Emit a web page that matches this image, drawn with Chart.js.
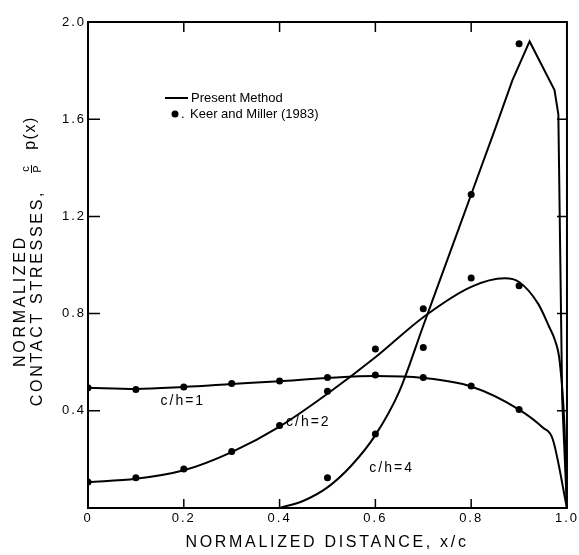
<!DOCTYPE html>
<html lang="en">
<head>
<meta charset="UTF-8" />
<title>Normalized Contact Stresses</title>
<script src="https://cdn.jsdelivr.net/npm/chart.js"></script>
<style>
  body { margin: 0; background: #fff; }
  #wrap { width: 579px; height: 555px; }
</style>
</head>
<body>
<div id="wrap"><canvas id="stressChart" width="579" height="555"></canvas></div>
<script>
// Present Method curves
const xCurve1 = [0, 0.1, 0.2, 0.3, 0.4, 0.5, 0.6, 0.7, 0.8, 0.9, 0.95, 0.97, 1.0];
const yCurve1 = [0.495, 0.49, 0.498, 0.51, 0.522, 0.535, 0.543, 0.535, 0.5, 0.405, 0.33, 0.285, 0];
const xCurve2 = [0, 0.1, 0.2, 0.3, 0.4, 0.5, 0.6, 0.7, 0.8, 0.87, 0.9, 0.94, 0.963, 0.975, 0.985, 0.995, 1.0];
const yCurve2 = [0.107, 0.12, 0.155, 0.23, 0.335, 0.47, 0.62, 0.785, 0.91, 0.945, 0.93, 0.84, 0.745, 0.69, 0.6, 0.33, 0];
// c/h=4: curved rise, then the nearly straight run up to the sharp peak and the drop
const xCurve4Rise = [0.4, 0.45, 0.5, 0.55, 0.6, 0.65, 0.7, 0.75, 0.8];
const yCurve4Rise = [0, 0.03, 0.085, 0.175, 0.3, 0.48, 0.75, 1.02, 1.29];
const xCurve4Peak = [0.8, 0.85, 0.886, 0.922, 0.974, 0.982, 0.99, 1.0];
const yCurve4Peak = [1.29, 1.56, 1.76, 1.92, 1.72, 1.62, 0.45, 0];

// Keer and Miller (1983)
const xKeer = [0, 0.1, 0.2, 0.3, 0.4, 0.5, 0.6, 0.7, 0.8, 0.9];
const yKeer1 = [0.495, 0.488, 0.498, 0.512, 0.523, 0.537, 0.547, 0.537, 0.502, 0.405];
const yKeer2 = [0.107, 0.125, 0.16, 0.232, 0.34, 0.48, 0.654, 0.82, 0.947, 0.915];
const xKeer4 = [0.5, 0.6, 0.7, 0.8, 0.9];
const yKeer4 = [0.125, 0.305, 0.66, 1.29, 1.91];

const xTicks = [0, 0.2, 0.4, 0.6, 0.8, 1.0];
const yTicks = [0.4, 0.8, 1.2, 1.6, 2.0];

// curve labels, placed in data units
const curveLabels = ['c/h=1', 'c/h=2', 'c/h=4'];
const labelX = [0.198, 0.46, 0.634];
const labelY = [0.44, 0.354, 0.165];

const INK = '#000';
const FONT = '"Liberation Sans", Arial, sans-serif';

function toPoints(xs, ys) {
    return xs.map((x, i) => ({ x: x, y: ys[i] }));
}

function curve(xs, ys, smooth) {
    return {
        data: toPoints(xs, ys),
        showLine: true,
        borderColor: INK,
        borderWidth: 2,
        pointRadius: 0,
        cubicInterpolationMode: smooth ? 'monotone' : 'default',
        tension: 0
    };
}

function dots(xs, ys) {
    return {
        data: toPoints(xs, ys),
        showLine: false,
        pointRadius: 3.5,
        pointBackgroundColor: INK,
        pointBorderColor: INK,
        pointBorderWidth: 0
    };
}

// box, inward ticks, legend and titles
const decor = {
    id: 'decor',
    beforeDraw(chart) {
        chart.ctx.letterSpacing = '2px';
    },
    afterDraw(chart) {
        const ctx = chart.ctx;
        const a = chart.chartArea;
        const sx = chart.scales.x, sy = chart.scales.y;
        ctx.save();
        ctx.letterSpacing = '0px';
        ctx.strokeStyle = INK;
        ctx.fillStyle = INK;

        // frame
        ctx.lineWidth = 2;
        ctx.strokeRect(a.left, a.top, a.right - a.left, a.bottom - a.top);

        // inward ticks on all four sides
        ctx.lineWidth = 1.5;
        ctx.beginPath();
        xTicks.forEach(v => {
            if (v <= 0 || v >= 1) return;
            const px = sx.getPixelForValue(v);
            ctx.moveTo(px, a.bottom); ctx.lineTo(px, a.bottom - 9);
            ctx.moveTo(px, a.top); ctx.lineTo(px, a.top + 10);
        });
        yTicks.forEach(v => {
            if (v >= 2) return;
            const py = sy.getPixelForValue(v);
            ctx.moveTo(a.left, py); ctx.lineTo(a.left + 12, py);
            ctx.moveTo(a.right, py); ctx.lineTo(a.right - 10, py);
        });
        ctx.stroke();

        // legend
        ctx.lineWidth = 2;
        ctx.beginPath();
        ctx.moveTo(165, 98); ctx.lineTo(188, 98);
        ctx.stroke();
        ctx.beginPath();
        ctx.arc(175, 114, 3.5, 0, Math.PI * 2);
        ctx.fill();
        ctx.font = '13px ' + FONT;
        ctx.textAlign = 'left';
        ctx.textBaseline = 'middle';
        ctx.fillText('Present Method', 191, 98);
        ctx.fillText('.', 181, 114);
        ctx.fillText('Keer and Miller (1983)', 190, 114);

        // curve labels
        ctx.font = '14px ' + FONT;
        ctx.letterSpacing = '2px';
        ctx.textAlign = 'center';
        curveLabels.forEach((t, i) => {
            ctx.fillText(t, sx.getPixelForValue(labelX[i]), sy.getPixelForValue(labelY[i]));
        });

        // x title
        ctx.font = '16px ' + FONT;
        ctx.letterSpacing = '2.7px';
        ctx.fillText('NORMALIZED DISTANCE, x/c', 327, 543);

        // y title (rotated)
        ctx.save();
        ctx.translate(21, 301);
        ctx.rotate(-Math.PI / 2);
        ctx.fillText('NORMALIZED', 0, 0);
        ctx.restore();

        ctx.save();
        ctx.translate(38, 298);
        ctx.rotate(-Math.PI / 2);
        ctx.fillText('CONTACT STRESSES,', 0, 0);
        ctx.restore();

        ctx.save();
        ctx.translate(31, 169);
        ctx.rotate(-Math.PI / 2);
        ctx.letterSpacing = '0px';
        ctx.font = '11px ' + FONT;
        ctx.fillText('c', 0, -5);
        ctx.fillText('P', 0, 7);
        ctx.lineWidth = 1;
        ctx.beginPath();
        ctx.moveTo(-4, 0.5); ctx.lineTo(4, 0.5);
        ctx.stroke();
        ctx.restore();

        ctx.save();
        ctx.translate(31, 133);
        ctx.rotate(-Math.PI / 2);
        ctx.letterSpacing = '1.5px';
        ctx.fillText('p(x)', 0, 0);
        ctx.restore();

        ctx.restore();
        ctx.letterSpacing = '0px';
    }
};

const config = {
    type: 'scatter',
    data: {
        datasets: [
            curve(xCurve1, yCurve1, true),
            curve(xCurve2, yCurve2, true),
            curve(xCurve4Rise, yCurve4Rise, true),
            curve(xCurve4Peak, yCurve4Peak, false),
            dots(xKeer, yKeer1),
            dots(xKeer, yKeer2),
            dots(xKeer4, yKeer4)
        ]
    },
    options: {
        responsive: false,
        animation: false,
        layout: { padding: { top: 22, right: 10, left: 0, bottom: 0 } },
        plugins: {
            legend: { display: false },
            tooltip: { enabled: false }
        },
        scales: {
            x: {
                type: 'linear',
                min: 0,
                max: 1,
                grid: { display: false, drawTicks: false },
                border: { display: false },
                afterBuildTicks: s => { s.ticks = xTicks.map(v => ({ value: v })); },
                afterFit: s => { s.height = 47; },
                ticks: {
                    padding: 3,
                    color: INK,
                    font: { size: 13, family: FONT },
                    maxRotation: 0,
                    callback: v => (v === 0 ? '0' : v.toFixed(1))
                }
            },
            y: {
                type: 'linear',
                min: 0,
                max: 2,
                grid: { display: false, drawTicks: false },
                border: { display: false },
                afterBuildTicks: s => { s.ticks = yTicks.map(v => ({ value: v })); },
                afterFit: s => { s.width = 88; },
                ticks: {
                    padding: 2,
                    color: INK,
                    font: { size: 13, family: FONT },
                    callback: v => v.toFixed(1)
                }
            }
        }
    },
    plugins: [decor]
};

new Chart(document.getElementById('stressChart').getContext('2d'), config);
</script>
</body>
</html>
